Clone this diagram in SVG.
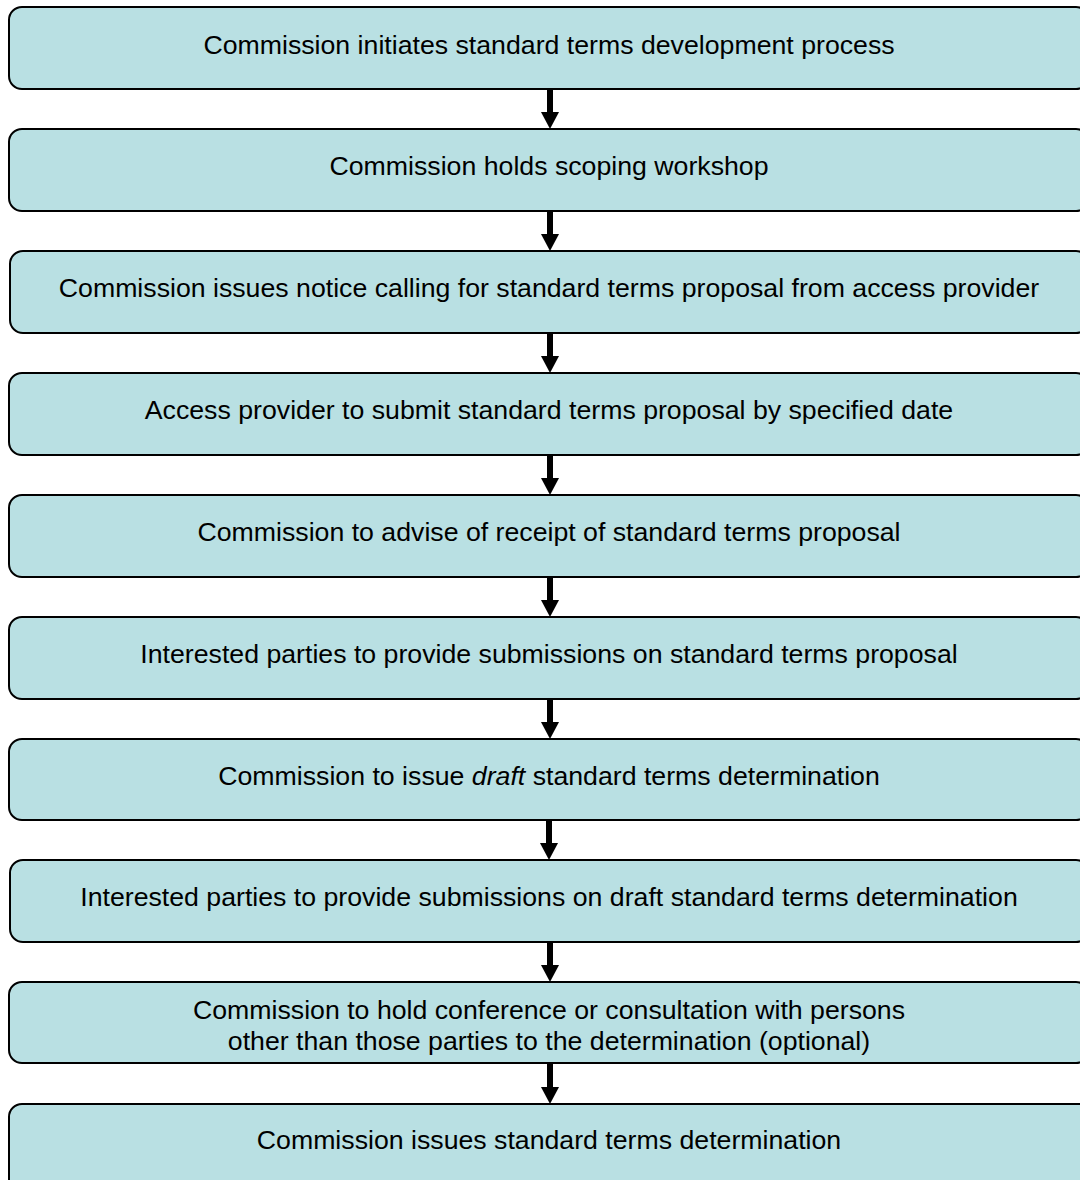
<svg xmlns="http://www.w3.org/2000/svg" width="1080" height="1180" viewBox="0 0 1080 1180">
<defs>
<style>
.box{fill:#b9e0e3;stroke:#000;stroke-width:2}
.t{font-family:"Liberation Sans",Arial,sans-serif;font-size:26.7px;fill:#000;text-anchor:middle}
.shaft{stroke:#000;stroke-width:6}
.head{fill:#000}
</style>
</defs>
<rect width="1080" height="1180" fill="#fff"/>
<g id="connectors">
<line class="shaft" x1="550" y1="89" x2="550" y2="113"/><polygon class="head" points="541,112 559,112 550,129"/>
<line class="shaft" x1="550" y1="211" x2="550" y2="235"/><polygon class="head" points="541,234 559,234 550,251"/>
<line class="shaft" x1="550" y1="333" x2="550" y2="357"/><polygon class="head" points="541,356 559,356 550,373"/>
<line class="shaft" x1="550" y1="455" x2="550" y2="479"/><polygon class="head" points="541,478 559,478 550,495"/>
<line class="shaft" x1="550" y1="577" x2="550" y2="601"/><polygon class="head" points="541,600 559,600 550,617"/>
<line class="shaft" x1="550" y1="699" x2="550" y2="723"/><polygon class="head" points="541,722 559,722 550,739"/>
<line class="shaft" x1="549" y1="820" x2="549" y2="844"/><polygon class="head" points="540,843 558,843 549,860"/>
<line class="shaft" x1="550" y1="942" x2="550" y2="966"/><polygon class="head" points="541,965 559,965 550,982"/>
<line class="shaft" x1="550" y1="1063" x2="550" y2="1088"/><polygon class="head" points="541,1087 559,1087 550,1104"/>
</g>
<g id="n1"><rect class="box" x="9" y="7" width="1080" height="82" rx="13"/><text class="t" x="549" y="53.5">Commission initiates standard terms development process</text></g>
<g id="n2"><rect class="box" x="9" y="129" width="1080" height="82" rx="13"/><text class="t" x="549" y="175">Commission holds scoping workshop</text></g>
<g id="n3"><rect class="box" x="10" y="251" width="1079" height="82" rx="13"/><text class="t" x="549" y="297">Commission issues notice calling for standard terms proposal from access provider</text></g>
<g id="n4"><rect class="box" x="9" y="373" width="1080" height="82" rx="13"/><text class="t" x="549" y="419">Access provider to submit standard terms proposal by specified date</text></g>
<g id="n5"><rect class="box" x="9" y="495" width="1080" height="82" rx="13"/><text class="t" x="549" y="541">Commission to advise of receipt of standard terms proposal</text></g>
<g id="n6"><rect class="box" x="9" y="617" width="1080" height="82" rx="13"/><text class="t" x="549" y="663">Interested parties to provide submissions on standard terms proposal</text></g>
<g id="n7"><rect class="box" x="9" y="739" width="1080" height="81" rx="13"/><text class="t" x="549" y="785">Commission to issue <tspan font-style="italic">draft</tspan> standard terms determination</text></g>
<g id="n8"><rect class="box" x="10" y="860" width="1079" height="82" rx="13"/><text class="t" x="549" y="906">Interested parties to provide submissions on draft standard terms determination</text></g>
<g id="n9"><rect class="box" x="9" y="982" width="1080" height="81" rx="13"/><text class="t" x="549" y="1018.5">Commission to hold conference or consultation with persons</text><text class="t" x="549" y="1049.5">other than those parties to the determination (optional)</text></g>
<g id="n10"><rect class="box" x="9" y="1104" width="1090" height="90" rx="13"/><text class="t" x="549" y="1148.5">Commission issues standard terms determination</text></g>
</svg>
